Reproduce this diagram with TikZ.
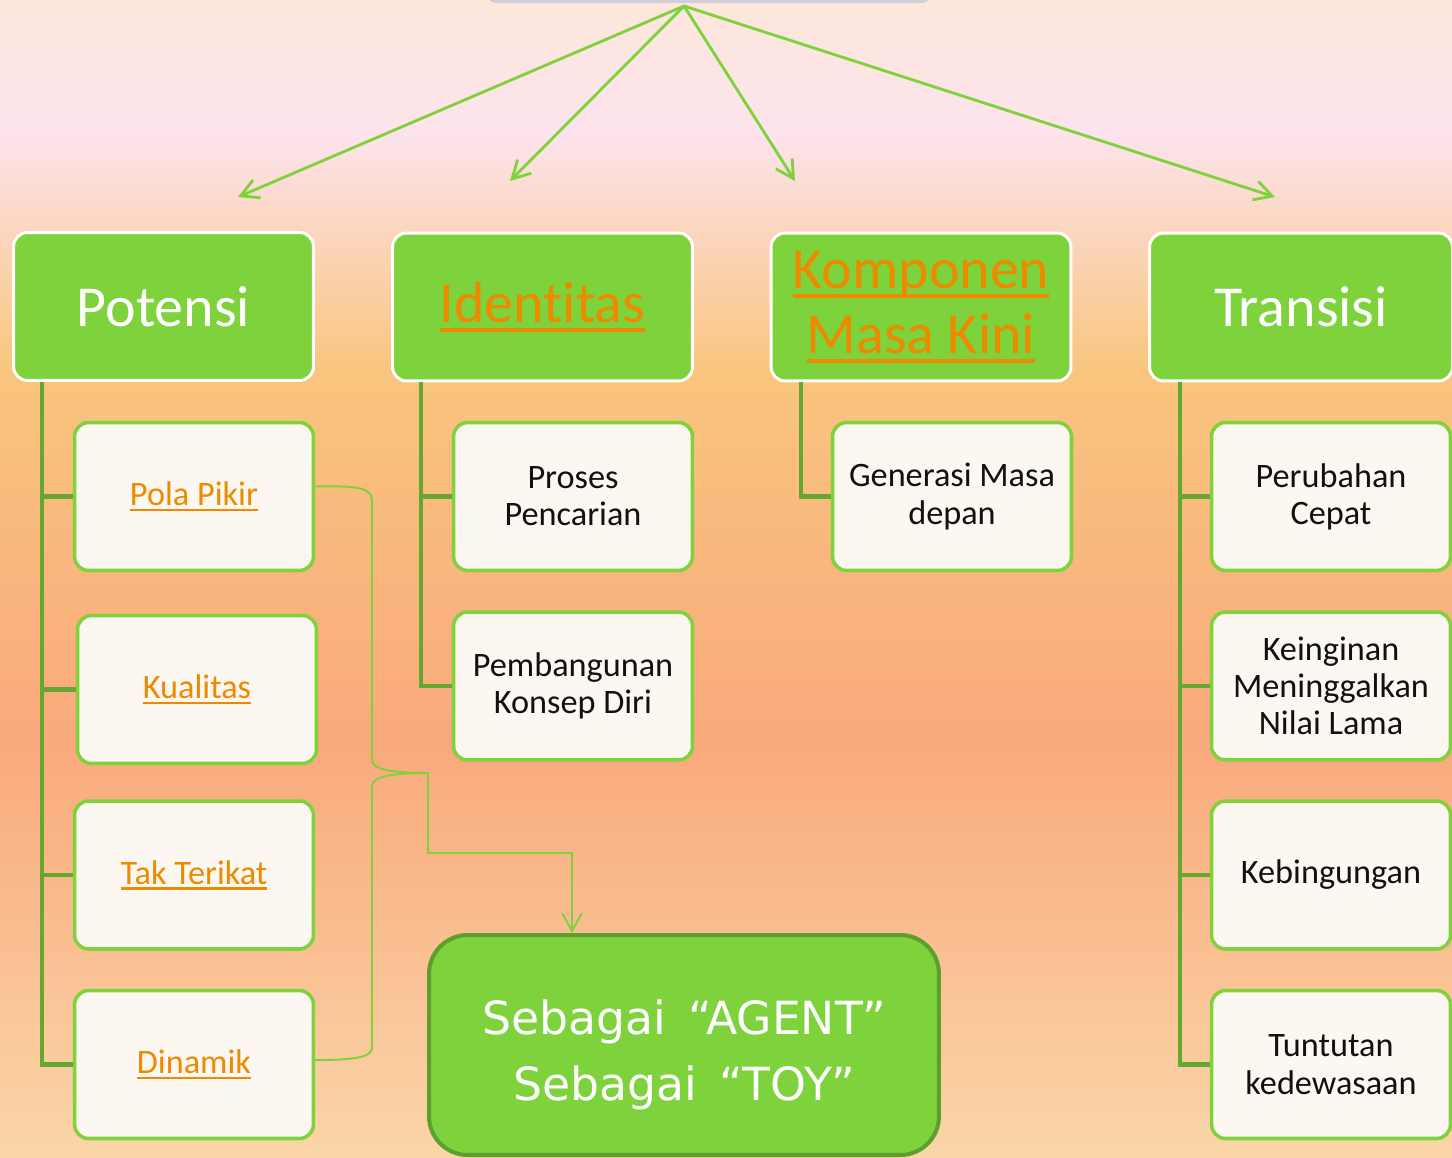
\documentclass[tikz,border=0pt]{standalone}
\usepackage{fontspec}
\setmainfont{Carlito}[RawFeature={-liga;-clig;-calt;-dlig}]
\newfontfamily\agentfont{DejaVu Sans}
\usetikzlibrary{arrows.meta}

\definecolor{leaf}{HTML}{7ED23B}
\definecolor{stem}{HTML}{64A832}
\definecolor{agentrim}{HTML}{5E9E2E}
\definecolor{cream}{HTML}{FDF7F1}
\definecolor{ink}{HTML}{111111}
\definecolor{linkorange}{HTML}{EE8A00}
\definecolor{bgtop}{HTML}{FCE7DB}
\definecolor{bgpink}{HTML}{FDE3EC}
\definecolor{bgyellow}{HTML}{F9C57E}
\definecolor{bgsalmon}{HTML}{F9A97C}
\definecolor{bgbottom}{HTML}{FAD6A8}
\definecolor{topshade}{HTML}{D3CCDC}

% underlined link text, rule at a fixed distance under the baseline
\newcommand{\ulink}[1]{\leavevmode\setbox0\hbox{#1}\vtop{\copy0\kern-\dp0\kern0.09em\hrule height 0.065em}}

\tikzset{
  headbox/.style={rectangle, rounded corners=8pt, fill=leaf, draw=white, line width=1.7pt,
    minimum width=6cm, minimum height=2.96cm, inner sep=0pt, align=center,
    text=white, font=\fontsize{33}{37}\selectfont},
  itembox/.style={rectangle, rounded corners=8pt, fill=cream, draw=leaf, line width=2pt,
    minimum width=4.78cm, minimum height=2.96cm, inner sep=0pt, align=center,
    text=ink, font=\fontsize{19.5}{21.2}\selectfont},
  treeline/.style={stem, line width=2.3pt},
  fanarrow/.style={leaf, line width=1.6pt, line cap=round, -{Straight Barb[length=10pt,width=11pt]}},
  bracelink/.style={leaf, line width=1.1pt}
}

\begin{document}
\begin{tikzpicture}[x=0.02cm, y=-0.02cm]
    \useasboundingbox (0,0) rectangle (1452,1158);

    % background
    \shade[top color=bgtop, bottom color=bgpink] (0,-1) rectangle (1452,135);
    \shade[top color=bgpink, bottom color=bgyellow] (0,134) rectangle (1452,371);
    \shade[top color=bgyellow, bottom color=bgsalmon] (0,370) rectangle (1452,741);
    \shade[top color=bgsalmon, bottom color=bgbottom] (0,740) rectangle (1452,1159);

    % bottom edge of the box above
    \fill[topshade, rounded corners=6pt] (486,-30) rectangle (932,3);

    % headings
    \node[headbox] (potensi) at (163.5,306.5) {Potensi};
    \node[headbox] (identitas) at (542.5,307) {\textcolor{linkorange}{\ulink{Identitas}}};
    \node[headbox] (komponen) at (921,307) {\textcolor{linkorange}{\ulink{Komponen}}\\\textcolor{linkorange}{\ulink{Masa Kini}}};
    \node[headbox, minimum width=6.06cm] (transisi) at (1301,307) {Transisi};

    % items
    \node[itembox] (polapikir) at (194,496.5) {\textcolor{linkorange}{\ulink{Pola Pikir}}};
    \node[itembox] (kualitas) at (197,689.5) {\textcolor{linkorange}{\ulink{Kualitas}}};
    \node[itembox] (takterikat) at (194,875) {\textcolor{linkorange}{\ulink{Tak Terikat}}};
    \node[itembox] (dinamik) at (194,1064.5) {\textcolor{linkorange}{\ulink{Dinamik}}};

    \node[itembox] (proses) at (573,496.5) {Proses\\Pencarian};
    \node[itembox] (pembangunan) at (573,686) {Pembangunan\\Konsep Diri};

    \node[itembox] (generasi) at (952,496.5) {Generasi Masa\\depan};

    \node[itembox] (perubahan) at (1331,496.5) {Perubahan\\Cepat};
    \node[itembox] (keinginan) at (1331,686) {Keinginan\\Meninggalkan\\Nilai Lama};
    \node[itembox] (kebingungan) at (1331,875) {Kebingungan};
    \node[itembox] (tuntutan) at (1331,1064.5) {Tuntutan\\kedewasaan};

    \node[rectangle, rounded corners=22pt, fill=leaf, draw=agentrim, line width=2.3pt,
        minimum width=10.2cm, minimum height=4.4cm, align=center, text=white,
        font=\agentfont\fontsize{26}{37.5}\selectfont] (agent) at (684,1045)
        {\rule{0pt}{31pt}Sebagai \,“AGENT”\\Sebagai \,“TOY”};

    % tree lines
    \foreach \kid in {polapikir,kualitas,takterikat,dinamik}
        \draw[treeline] ([xshift=0.6cm]potensi.south west) |- (\kid.west);
    \foreach \kid in {proses,pembangunan}
        \draw[treeline] ([xshift=0.6cm]identitas.south west) |- (\kid.west);
    \draw[treeline] ([xshift=0.62cm]komponen.south west) |- (generasi.west);
    \foreach \kid in {perubahan,keinginan,kebingungan,tuntutan}
        \draw[treeline] ([xshift=0.64cm]transisi.south west) |- (\kid.west);

    % fan of arrows from the top
    \coordinate (apex) at (684,6);
    \coordinate (toPotensi) at (238,197);
    \coordinate (toIdentitas) at (510,181);
    \coordinate (toKomponen) at (795,181);
    \coordinate (toTransisi) at (1275,197);
    \draw[fanarrow] (apex) -- (toPotensi);
    \draw[fanarrow] (apex) -- (toIdentitas);
    \draw[fanarrow] (apex) -- (toKomponen);
    \draw[fanarrow] (apex) -- (toTransisi);

    % brace to the agent box
    \coordinate (bracetip) at (428,773);
    \draw[bracelink] ([yshift=0.2cm]polapikir.east) .. controls (350,486) and (372,486) .. (372,500)
        -- (372,760) .. controls (372,770) and (395,773) .. (bracetip);
    \draw[bracelink] (bracetip) .. controls (395,773) and (372,776) .. (372,786)
        -- (372,1048) .. controls (372,1058) and (350,1060) .. ([yshift=0.09cm]dinamik.east);
    \draw[bracelink, -{Straight Barb[length=10pt,width=11pt]}] (bracetip) -- (428,853)
        -| ([xshift=-2.24cm]agent.north);
\end{tikzpicture}
\end{document}
